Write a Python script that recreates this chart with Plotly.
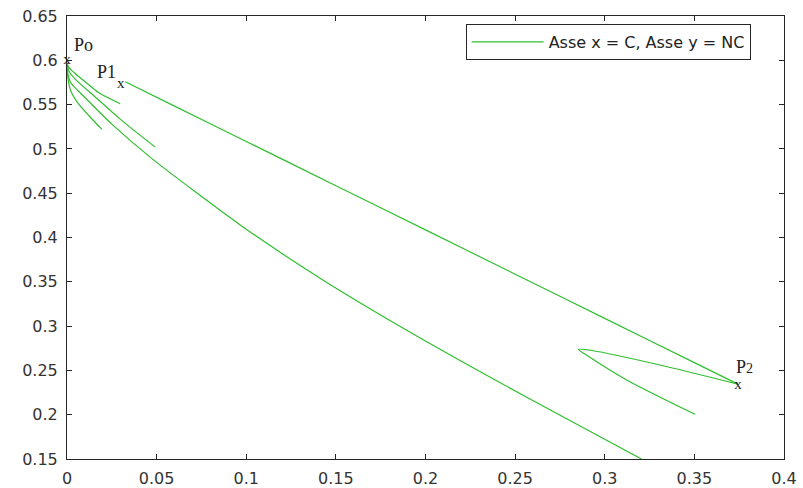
import plotly.graph_objects as go

# ---- data ----
# short fan curves leaving P0
fan_a_x = [0.0, 0.001, 0.004, 0.010, 0.018, 0.0297]
fan_a_y = [0.597, 0.592, 0.586, 0.576, 0.563, 0.551]

fan_b_x = [0.0, 0.001, 0.005, 0.015, 0.030, 0.0492]
fan_b_y = [0.597, 0.588, 0.578, 0.560, 0.533, 0.502]

fan_c_x = [0.0, 0.0005, 0.002, 0.006, 0.012, 0.0195]
fan_c_y = [0.597, 0.580, 0.566, 0.552, 0.538, 0.522]

# long lower curve leaving P0
long_x = [0.0, 0.0005, 0.002, 0.010, 0.025, 0.0474, 0.0966, 0.1412, 0.1859, 0.2379, 0.2751, 0.3205]
long_y = [0.597, 0.585, 0.575, 0.558, 0.528, 0.489, 0.4142, 0.354, 0.2995, 0.2402, 0.1993, 0.150]

# curve from P1 to P2
upper_x = [0.0325, 0.060, 0.100, 0.150, 0.200, 0.250, 0.300, 0.350, 0.3743]
upper_y = [0.5758, 0.5483, 0.5084, 0.4585, 0.4086, 0.3586, 0.3087, 0.2588, 0.2345]

# curve turning back from P2 (tip near x = 0.285) and going down again
back_x = [0.3743, 0.3308, 0.2936, 0.2853, 0.2885, 0.3122, 0.3503]
back_y = [0.2345, 0.2561, 0.2722, 0.2736, 0.2690, 0.2392, 0.2005]

# labelled points
point_names = ["Po", "P1", "P<span style='font-size:14px'>2</span>"]
point_x = [0.0, 0.0300, 0.3743]
point_y = [0.600, 0.5735, 0.2335]

legend_label = "Asse x = C, Asse y = NC"

# ---- figure ----
curves = [(fan_a_x, fan_a_y), (fan_b_x, fan_b_y), (fan_c_x, fan_c_y),
          (long_x, long_y), (upper_x, upper_y), (back_x, back_y)]
all_x, all_y = [], []
for cx, cy in curves:
    all_x += list(cx) + [None]
    all_y += list(cy) + [None]

GREEN = "#2fbf2f"
AXC = "#262626"

fig = go.Figure()
fig.add_trace(go.Scatter(x=all_x, y=all_y, mode="lines", name=legend_label,
                         line=dict(color=GREEN, width=1.2, shape="spline", smoothing=0.7),
                         connectgaps=False, hoverinfo="skip"))
fig.add_trace(go.Scatter(x=point_x, y=point_y, mode="text", text=["x", "x", "x"],
                         textposition="middle center", cliponaxis=False,
                         textfont=dict(family="Liberation Serif", size=15, color="#222"),
                         showlegend=False, hoverinfo="skip"))

label_offsets = [(5, 15, "left"), (-3, 12, "right"), (-4, 18, "left")]
for name, px, py, (dx, dy, anc) in zip(point_names, point_x, point_y, label_offsets):
    fig.add_annotation(x=px, y=py, text=name, showarrow=False, xanchor=anc, yanchor="middle",
                       xshift=dx, yshift=dy,
                       font=dict(family="Liberation Serif", size=18, color="#222"))

axis_common = dict(showgrid=False, zeroline=False, showline=True, linecolor=AXC, linewidth=1,
                   mirror="ticks", ticks="inside", ticklen=5, tickcolor=AXC, tickwidth=1,
                   automargin=False,
                   tickfont=dict(family="DejaVu Sans", size=16, color="#333"), dtick=0.05)

fig.update_layout(
    width=803, height=488,
    margin=dict(l=67, r=19, t=16, b=29),
    paper_bgcolor="white", plot_bgcolor="white",
    xaxis=dict(range=[0, 0.4], tick0=0, ticklabelstandoff=5, **axis_common),
    yaxis=dict(range=[0.15, 0.65], tick0=0.15, ticklabelstandoff=5, **axis_common),
    legend=dict(x=0.556, y=0.982, xanchor="left", yanchor="top",
                bgcolor="white", bordercolor=AXC, borderwidth=1,
                font=dict(family="DejaVu Sans", size=16, color="#222"),
                itemwidth=72),
    showlegend=True,
)

fig.write_html("out.html")
